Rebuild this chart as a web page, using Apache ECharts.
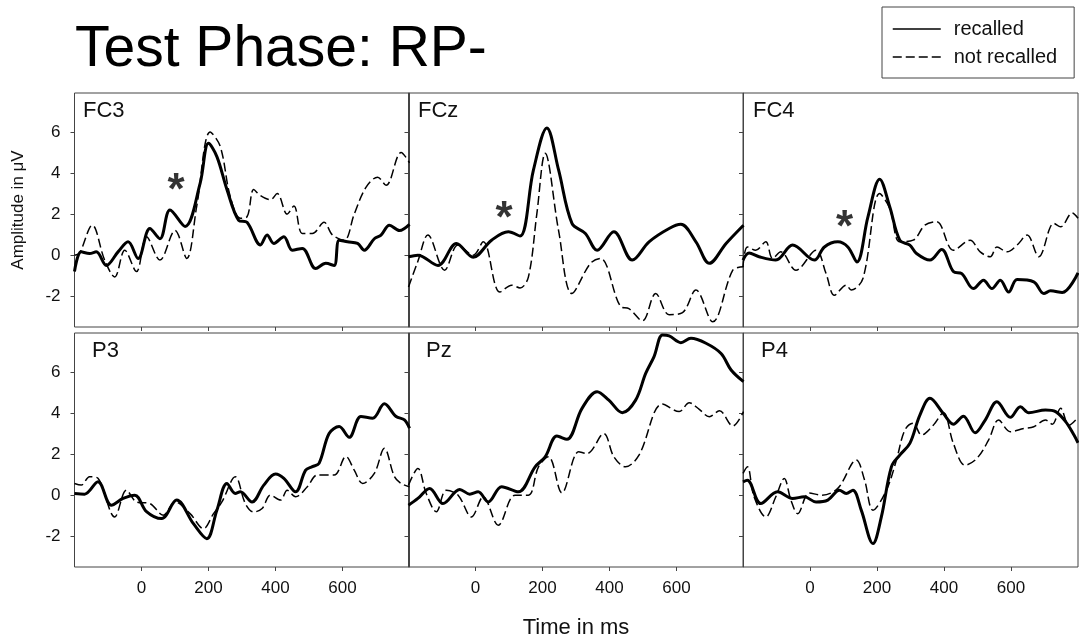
<!DOCTYPE html>
<html>
<head>
<meta charset="utf-8">
<script src="https://cdn.jsdelivr.net/npm/echarts@6/dist/echarts.min.js"></script>
<style>
  html, body { margin: 0; padding: 0; background: #fff; }
  #chart { width: 1079px; height: 641px; }
</style>
</head>
<body>
<div id="chart"></div>
<script>
  // time in ms, amplitude in uV
  var fc3Recalled = [[-200,-0.8],[-180,0.16],[-155,0.08],[-135,0.16],[-105,-0.5],[-70,0.16],[-40,0.65],[-10,-0.16],[25,1.3],[55,0.8],[85,2.2],[130,1.4],[175,3.5],[200,5.45],[225,4.8],[255,3.2],[290,1.7],[315,1.6],[355,0.5],[375,0.98],[395,0.57],[425,0.9],[450,0.24],[480,0.33],[520,-0.65],[550,-0.4],[575,-0.5],[590,0.73],[615,0.65],[645,0.57],[665,0.24],[695,0.8],[715,0.98],[740,1.46],[770,1.2],[800,1.5]];
  var fc3NotRecalled = [[-200,0.0],[-185,0.1],[-147,1.46],[-110,-0.24],[-80,-1.06],[-50,0.24],[-15,-0.8],[15,0.9],[55,-0.24],[100,1.2],[135,-0.16],[165,2.4],[205,6.0],[235,5.3],[265,2.85],[295,1.8],[315,1.87],[335,3.2],[355,2.9],[385,2.7],[405,3.0],[435,2.0],[455,2.4],[480,1.06],[510,1.06],[545,1.6],[570,0.98],[605,0.73],[635,2.0],[670,3.3],[705,3.8],[730,3.4],[775,5.0],[800,4.5]];
  var fczRecalled = [[-200,-0.08],[-172,0],[-112,-0.5],[-57,0.57],[-7,-0.1],[48,0.73],[98,1.14],[133,0.93],[173,4.15],[213,6.2],[248,4.15],[288,1.55],[328,1.06],[363,0.24],[413,1.14],[468,-0.24],[518,0.65],[578,1.3],[613,1.5],[658,0.65],[698,-0.4],[748,0.57],[800,1.46]];
  var fczNotRecalled = [[-200,-1.55],[-172,-0.3],[-142,0.98],[-92,-0.73],[-52,0.49],[-7,0],[23,0.65],[73,-1.8],[108,-1.46],[133,-1.6],[158,-1.06],[183,2.0],[208,4.96],[248,1.2],[288,-1.87],[343,-0.4],[373,-0.16],[433,-2.5],[458,-2.6],[498,-3.2],[538,-1.87],[578,-2.9],[618,-2.8],[658,-1.7],[708,-3.25],[768,-0.73],[800,-0.57]];
  var fc4Recalled = [[-200,-0.24],[-182,0.1],[-152,-0.08],[-102,-0.24],[-52,0.49],[13,-0.24],[43,0.4],[83,0.65],[113,0.4],[140,-0.33],[173,1.87],[208,3.7],[238,2.36],[268,0.73],[298,0.49],[318,0.08],[358,-0.24],[393,0.28],[428,-0.8],[453,-0.9],[488,-1.63],[518,-1.22],[543,-1.63],[568,-1.22],[593,-1.8],[618,-1.19],[668,-1.3],[698,-1.87],[718,-1.74],[753,-1.82],[800,-0.86]];
  var fc4NotRecalled = [[-200,-0.57],[-187,0.4],[-162,0.24],[-132,0.65],[-112,-0.16],[-87,0.16],[-42,-0.73],[18,0.24],[48,-0.9],[73,-1.95],[108,-1.46],[123,-1.7],[158,-1.14],[208,3.0],[238,2.28],[268,0.65],[308,0.73],[343,1.46],[378,1.63],[428,0.24],[478,0.73],[508,0.16],[538,-0.08],[558,0.4],[588,0.16],[618,0.49],[648,0.98],[683,-0.08],[728,1.55],[748,1.38],[783,2.06],[800,1.8]];
  var p3Recalled = [[-200,0.08],[-170,0.05],[-130,0.65],[-90,-0.49],[-55,-0.16],[-20,0],[15,-0.8],[60,-1.14],[105,-0.24],[155,-1.39],[195,-2.12],[225,-0.73],[255,0.57],[280,0.08],[295,0.16],[330,-0.33],[365,0.49],[400,1.03],[425,0.82],[460,0.16],[490,1.22],[510,1.39],[530,1.55],[560,3.0],[590,3.34],[620,2.82],[655,3.83],[690,3.75],[725,4.45],[760,3.83],[785,3.67],[800,3.26]];
  var p3NotRecalled = [[-200,0.57],[-180,0.49],[-155,0.9],[-130,0.82],[-80,-1.06],[-45,0.24],[-15,-0.33],[25,-0.41],[65,-0.98],[100,-0.33],[145,-0.9],[185,-1.63],[215,-0.9],[240,-0.33],[280,0.9],[310,-0.41],[335,-0.82],[360,-0.65],[385,0],[415,-0.24],[435,0.24],[460,-0.08],[495,0.41],[525,0.98],[575,0.98],[610,1.88],[635,1.22],[660,0.57],[695,1.06],[725,2.28],[755,0.9],[775,0.57],[800,0.41]];
  var pzRecalled = [[-200,-0.49],[-172,-0.16],[-137,0.33],[-97,-0.41],[-47,0.28],[-17,0.05],[8,0.16],[38,-0.33],[78,0.41],[128,0.16],[178,1.38],[208,1.87],[243,2.88],[273,2.72],[318,4.23],[363,5.04],[398,4.63],[438,4.02],[478,4.63],[508,5.93],[533,6.75],[558,7.8],[578,7.76],[613,7.43],[643,7.64],[688,7.4],[733,6.9],[763,6.1],[800,5.53]];
  var pzNotRecalled = [[-200,0.49],[-172,1.3],[-147,0.08],[-117,-0.81],[-87,0.24],[-52,0],[-12,-1.06],[23,-0.08],[68,-1.46],[118,0],[158,0],[188,1.38],[218,1.87],[258,0.11],[308,2.11],[333,2.03],[383,3.0],[413,1.87],[448,1.38],[488,1.95],[558,4.44],[608,4.07],[638,4.5],[668,4.18],[698,3.82],[728,4.11],[768,3.37],[800,4.07]];
  var p4Recalled = [[-200,0.65],[-187,0.73],[-147,-0.41],[-97,0.16],[-52,-0.16],[-17,-0.08],[18,-0.33],[53,-0.24],[88,0.24],[108,0.08],[128,0.24],[153,-0.73],[188,-2.36],[213,-1.06],[243,1.38],[268,1.95],[298,2.52],[328,3.9],[358,4.72],[398,3.98],[428,3.46],[458,3.85],[493,3.04],[523,3.66],[558,4.55],[598,3.79],[628,4.31],[653,4.02],[703,4.15],[733,4.07],[763,3.58],[788,2.93],[800,2.55]];
  var p4NotRecalled = [[-200,1.06],[-187,1.38],[-167,-0.08],[-132,-1.06],[-102,-0.08],[-77,0.81],[-57,-0.24],[-37,-0.9],[-2,0.11],[33,0],[83,0.33],[138,1.71],[163,0.73],[188,-0.73],[228,0.24],[258,1.71],[283,3.17],[308,3.5],[333,2.93],[368,3.41],[398,4.02],[428,2.52],[463,1.46],[498,1.79],[533,2.68],[563,3.66],[598,3.09],[638,3.25],[668,3.33],[703,3.66],[723,3.46],[748,4.23],[773,3.41],[800,3.79]];

  var electrodes = ['FC3', 'FCz', 'FC4', 'P3', 'Pz', 'P4'];
  var recalled = [fc3Recalled, fczRecalled, fc4Recalled, p3Recalled, pzRecalled, p4Recalled];
  var notRecalled = [fc3NotRecalled, fczNotRecalled, fc4NotRecalled, p3NotRecalled, pzNotRecalled, p4NotRecalled];
  // significance stars on the top row (time, amplitude)
  var stars = [[103, 3.56], [85, 2.2], [103, 1.76]];
  var timeTicks = [0, 200, 400, 600];
  var ampTicks = [-2, 0, 2, 4, 6];

  var font = 'Liberation Sans, Arial, sans-serif';
  var colLeft = [74.5, 408.5, 743];
  var rowTop = [93, 333];
  var panelW = 335;
  var panelH = 234;
  var labelLeft = [[83, 418, 753], [92, 426, 761]];

  var chart = echarts.init(document.getElementById('chart'));

  var grids = [], xAxes = [], yAxes = [], series = [];
  var titles = [{
    text: 'Test Phase: RP-',
    left: 75,
    top: 22,
    padding: 0,
    textStyle: { fontFamily: font, fontSize: 57, fontWeight: 'normal', color: '#000' }
  }];

  for (var i = 0; i < electrodes.length; i++) {
    var row = Math.floor(i / 3);
    var col = i % 3;
    grids.push({
      left: colLeft[col], top: rowTop[row], width: panelW, height: panelH,
      show: true, borderColor: '#444', borderWidth: 1, backgroundColor: 'transparent'
    });
    xAxes.push({
      type: 'value', gridIndex: i, min: -200, max: 800, position: 'bottom',
      axisLine: { show: false, onZero: false },
      axisTick: { show: true, inside: false, length: 4, customValues: timeTicks, lineStyle: { color: '#444' } },
      axisLabel: { show: row === 1, customValues: timeTicks, fontFamily: font, fontSize: 17, color: '#111', margin: 13 },
      splitLine: { show: false },
      name: i === 4 ? 'Time in ms' : '',
      nameLocation: 'middle',
      nameGap: 50,
      nameTextStyle: { fontFamily: font, fontSize: 22, color: '#111' }
    });
    yAxes.push({
      type: 'value', gridIndex: i, min: -3.5, max: 7.9, position: 'left',
      axisLine: { show: false, onZero: false },
      axisTick: { show: true, inside: false, length: 4, customValues: ampTicks, lineStyle: { color: '#444' } },
      axisLabel: { show: col === 0, customValues: ampTicks, fontFamily: font, fontSize: 17, color: '#111', margin: 14 },
      splitLine: { show: false },
      name: i === 0 ? 'Amplitude in \u03bcV' : '',
      nameLocation: 'middle',
      nameGap: 48,
      nameTextStyle: { fontFamily: font, fontSize: 17, color: '#111' }
    });
    series.push({
      name: 'recalled', type: 'line', xAxisIndex: i, yAxisIndex: i,
      data: recalled[i], symbol: 'none', smooth: 0.35,
      itemStyle: { color: '#000' },
      lineStyle: { color: '#000', width: 3 }, z: 3
    });
    series.push({
      name: 'not recalled', type: 'line', xAxisIndex: i, yAxisIndex: i,
      data: notRecalled[i], symbol: 'none', smooth: 0.35,
      itemStyle: { color: '#000' },
      lineStyle: { color: '#000', width: 1.5, type: [9, 4] }, z: 2
    });
    if (i < 3) {
      series.push({
        name: 'star', type: 'scatter', xAxisIndex: i, yAxisIndex: i,
        data: [stars[i]], symbolSize: 1, itemStyle: { color: 'rgba(0,0,0,0)' }, silent: true,
        label: {
          show: true, formatter: '*', position: 'inside', offset: [0, 10],
          fontFamily: font, fontSize: 44, fontWeight: 'bold', color: '#000'
        }
      });
    }
    titles.push({
      text: electrodes[i],
      left: labelLeft[row][col],
      top: rowTop[row] + 7,
      padding: 0,
      textStyle: { fontFamily: font, fontSize: 22, fontWeight: 'normal', color: '#111' }
    });
  }

  chart.setOption({
    animation: false,
    backgroundColor: '#fff',
    title: titles,
    legend: {
      data: ['recalled', 'not recalled'],
      orient: 'vertical',
      left: 882, top: 7,
      padding: [12, 17, 11, 10],
      itemWidth: 48, itemHeight: 14, itemGap: 8,
      borderColor: '#444', borderWidth: 1,
      itemStyle: { opacity: 0 },
      lineStyle: { width: 1.5 },
      textStyle: { fontFamily: font, fontSize: 20, color: '#111', lineHeight: 20, padding: [0, 0, 0, 8] }
    },
    grid: grids,
    xAxis: xAxes,
    yAxis: yAxes,
    series: series
  });
</script>
</body>
</html>
